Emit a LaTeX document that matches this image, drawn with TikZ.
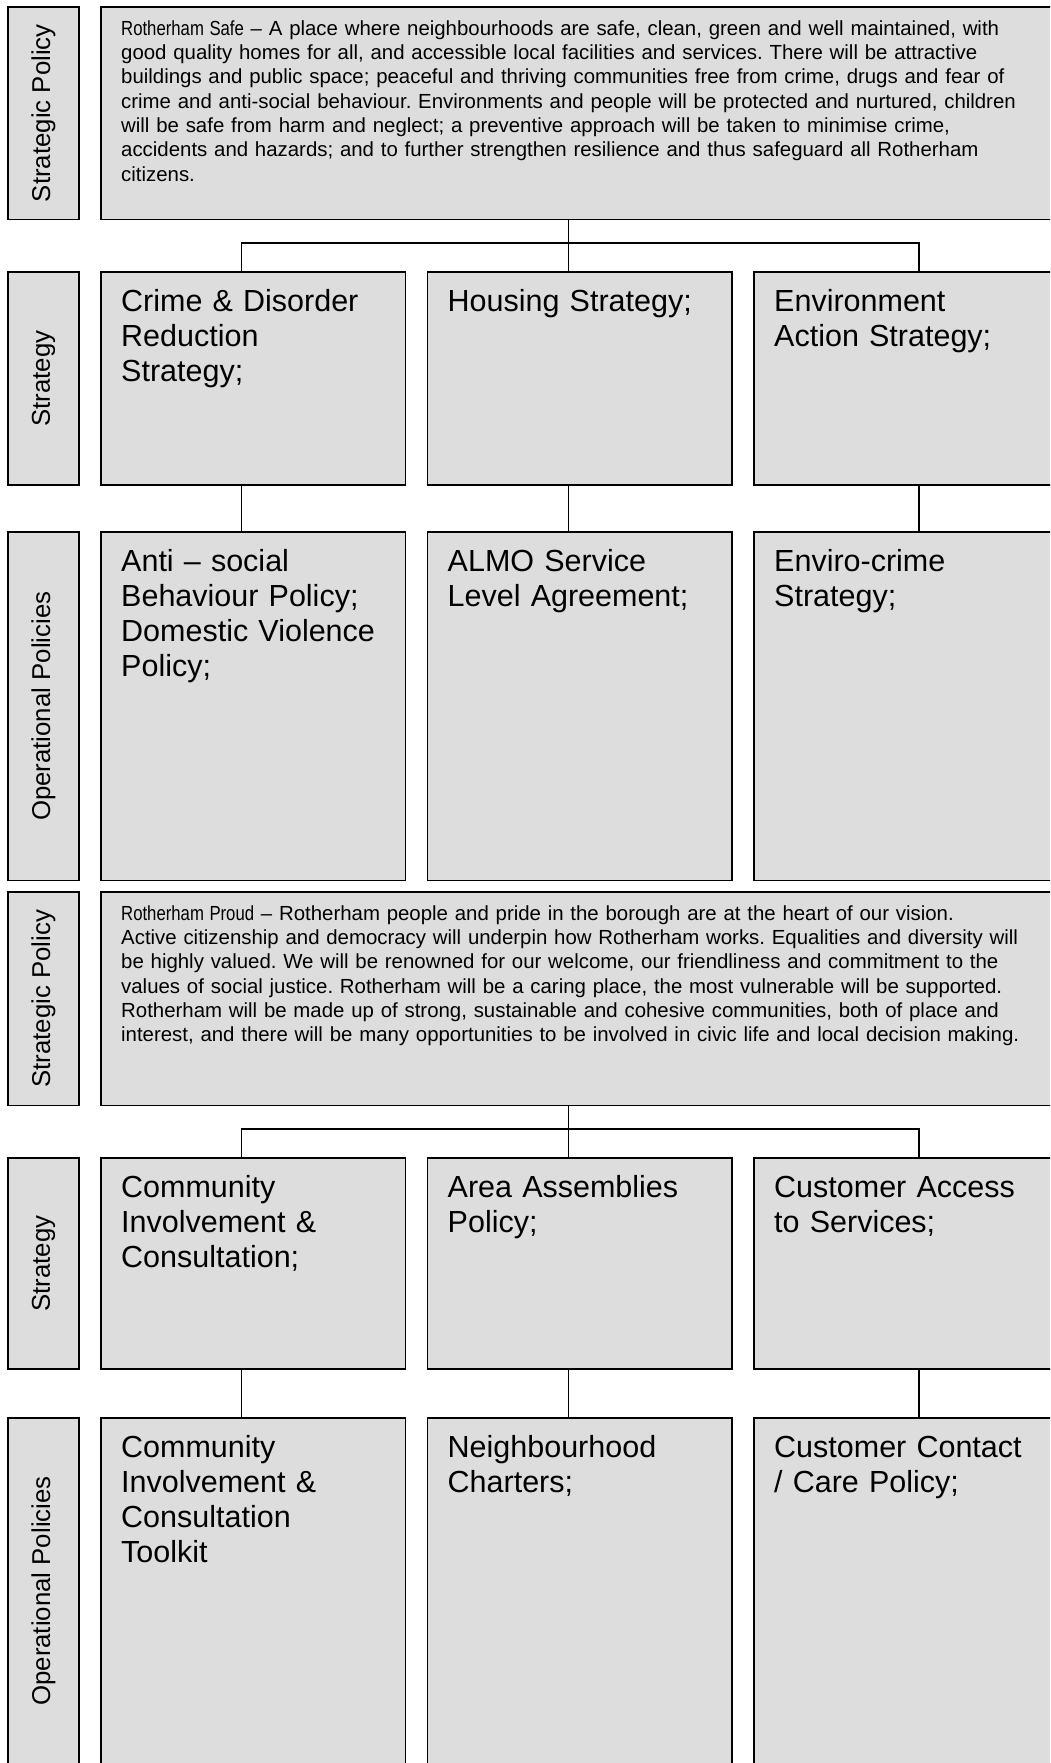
\documentclass[tikz,border=0pt]{standalone}
\usepackage{fontspec}
\setmainfont{Liberation Sans}
\usepackage{graphicx}
\usepackage{xcolor}
\usetikzlibrary{positioning}

\definecolor{boxgray}{HTML}{DDDDDD}
% the theme names are set in a narrow face
\newcommand{\themename}[1]{\scalebox{0.82}[1]{#1}}
\frenchspacing

\begin{document}
\begin{tikzpicture}[x=1pt, y=-1pt, node distance=22pt,
  box/.style={draw=black, fill=boxgray, line width=1.4pt, outer sep=0pt, inner sep=0pt, anchor=north west, minimum width=304.5pt},
  widebox/.style={box, minimum width=959pt, minimum height=212.5pt},
  sidebox/.style={draw=black, fill=boxgray, line width=1.4pt, outer sep=0pt, rotate=90, minimum height=71pt, font=\fontsize{25.8}{30}\selectfont},
  bigtxt/.style={anchor=north west, inner sep=0pt, text width=290pt, align=left, font=\fontsize{30.5}{34.8}\selectfont},
  smalltxt/.style={anchor=north west, inner sep=0pt, text width=935pt, align=left, font=\fontsize{20.4}{24.3}\selectfont},
  link/.style={draw=black, line width=1.1pt}]
\useasboundingbox (0,0) rectangle (1050,1763);
\clip (0,0) rectangle (1050,1763);

% side labels
\node[sidebox, minimum width=212.5pt] (lblsafe) at (43.5,113.25) {Strategic Policy};
\node[sidebox, minimum width=213pt] (lblstratA) at (43.5,378.5) {Strategy};
\node[sidebox, minimum width=348.5pt] (lblopsA) at (43.5,706.25) {Operational Policies};
\node[sidebox, minimum width=213.5pt] (lblproud) at (43.5,998.75) {Strategic Policy};
\node[sidebox, minimum width=211pt] (lblstratB) at (43.5,1263.5) {Strategy};
\node[sidebox, minimum width=346pt] (lblopsB) at (43.5,1591) {Operational Policies};

% Rotherham Safe
\node[widebox] (safe) at (101,7) {};
\node[smalltxt, below right=11pt and 20pt of safe.north west] (safetxt) {\strut\themename{Rotherham Safe} – A place where neighbourhoods are safe, clean, green and well maintained, with\\
good quality homes for all, and accessible local facilities and services. There will be attractive\\
buildings and public space; peaceful and thriving communities free from crime, drugs and fear of\\
crime and anti-social behaviour. Environments and people will be protected and nurtured, children\\
will be safe from harm and neglect; a preventive approach will be taken to minimise crime,\\
accidents and hazards; and to further strengthen resilience and thus safeguard all Rotherham\\
citizens.};

\node[box, minimum height=213pt] (crime) at (101,272) {};
\node[box, minimum height=213pt, right=of crime] (housing) {};
\node[box, minimum height=213pt, right=of housing] (enviro) {};
\node[bigtxt, below right=15.3pt and 20pt of crime.north west] (crimetxt) {\strut Crime \& Disorder\\Reduction\\Strategy;};
\node[bigtxt, below right=15.3pt and 20pt of housing.north west] (housingtxt) {\strut Housing Strategy;};
\node[bigtxt, below right=15.3pt and 20pt of enviro.north west] (envirotxt) {\strut Environment\\Action Strategy;};

\node[box, minimum height=348.5pt] (asb) at (101,532) {};
\node[box, minimum height=348.5pt, right=of asb] (almo) {};
\node[box, minimum height=348.5pt, right=of almo] (envcrime) {};
\node[bigtxt, below right=15.3pt and 20pt of asb.north west] (asbtxt) {\strut Anti – social\\Behaviour Policy;\\Domestic Violence\\Policy;};
\node[bigtxt, below right=15.3pt and 20pt of almo.north west] (almotxt) {\strut ALMO Service\\Level Agreement;};
\node[bigtxt, below right=15.3pt and 20pt of envcrime.north west] (envcrimetxt) {\strut Enviro-crime\\Strategy;};

% Rotherham Proud
\node[widebox, minimum height=213.5pt] (proud) at (101,892) {};
\node[smalltxt, below right=11pt and 20pt of proud.north west] (proudtxt) {\strut\themename{Rotherham Proud} – Rotherham people and pride in the borough are at the heart of our vision.\\
Active citizenship and democracy will underpin how Rotherham works. Equalities and diversity will\\
be highly valued. We will be renowned for our welcome, our friendliness and commitment to the\\
values of social justice. Rotherham will be a caring place, the most vulnerable will be supported.\\
Rotherham will be made up of strong, sustainable and cohesive communities, both of place and\\
interest, and there will be many opportunities to be involved in civic life and local decision making.};

\node[box, minimum height=211pt] (consult) at (101,1158) {};
\node[box, minimum height=211pt, right=of consult] (assembly) {};
\node[box, minimum height=211pt, right=of assembly] (access) {};
\node[bigtxt, below right=15.3pt and 20pt of consult.north west] (consulttxt) {\strut Community\\Involvement \&\\Consultation;};
\node[bigtxt, below right=15.3pt and 20pt of assembly.north west] (assemblytxt) {\strut Area Assemblies\\Policy;};
\node[bigtxt, below right=15.3pt and 20pt of access.north west] (accesstxt) {\strut Customer Access\\to Services;};

\node[box, minimum height=346pt] (toolkit) at (101,1418) {};
\node[box, minimum height=346pt, right=of toolkit] (charter) {};
\node[box, minimum height=346pt, right=of charter] (contact) {};
\node[bigtxt, below right=15.3pt and 20pt of toolkit.north west] (toolkittxt) {\strut Community\\Involvement \&\\Consultation\\Toolkit};
\node[bigtxt, below right=15.3pt and 20pt of charter.north west] (chartertxt) {\strut Neighbourhood\\Charters;};
\node[bigtxt, below right=15.3pt and 20pt of contact.north west] (contacttxt) {\strut Customer Contact\\/ Care Policy;};

% connector columns
\coordinate (c1) at (241.7,0);
\coordinate (c3) at (919,0);
\coordinate (hubA) at (568.3,243);
\coordinate (hubB) at (568.3,1129);

\draw[link] (safe.south -| hubA) -- (housing.north -| hubA);
\draw[link] (crime.north -| c1) |- (hubA) -| (enviro.north -| c3);
\draw[link] (crime.south -| c1) -- (asb.north -| c1);
\draw[link] (housing.south -| hubA) -- (almo.north -| hubA);
\draw[link] (enviro.south -| c3) -- (envcrime.north -| c3);

\draw[link] (proud.south -| hubB) -- (assembly.north -| hubB);
\draw[link] (consult.north -| c1) |- (hubB) -| (access.north -| c3);
\draw[link] (consult.south -| c1) -- (toolkit.north -| c1);
\draw[link] (assembly.south -| hubB) -- (charter.north -| hubB);
\draw[link] (access.south -| c3) -- (contact.north -| c3);
\end{tikzpicture}
\end{document}
